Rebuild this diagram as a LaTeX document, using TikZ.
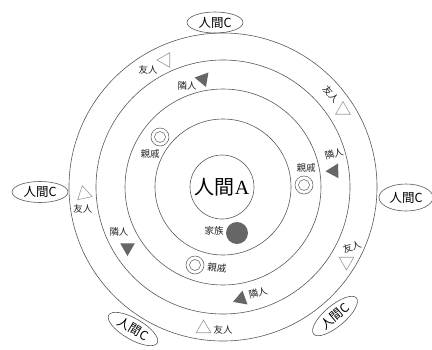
\documentclass[tikz,border=0pt]{standalone}
\usepackage{fontspec}
\setmainfont{Liberation Serif}
\newfontfamily\jp{Noto Sans CJK JP}
\usetikzlibrary{shapes.geometric}
\definecolor{ringc}{HTML}{5A5A5A}
\definecolor{darkfill}{HTML}{666666}
\definecolor{lightline}{HTML}{9A9A9A}
\tikzset{
  ring/.style={circle,draw=ringc,line width=0.6pt,inner sep=0pt},
  lbl/.style={font=\jp\fontsize{9.5}{10}\selectfont,inner sep=0pt,text=black!85},
  hum/.style={ellipse,draw=ringc,line width=0.6pt,inner sep=0pt,minimum width=56pt,minimum height=21pt,font=\jp\fontsize{12.5}{13}\selectfont},
  opentri/.style={regular polygon,regular polygon sides=3,draw=lightline,line width=0.6pt,inner sep=0pt,minimum size=17pt},
  filltri/.style={regular polygon,regular polygon sides=3,fill=darkfill,inner sep=0pt,minimum size=17pt},
  kin/.style={circle,draw=ringc,line width=0.5pt,inner sep=0pt,minimum size=18pt},
  kinin/.style={circle,draw=ringc,line width=0.5pt,inner sep=0pt,minimum size=11pt},
}
\begin{document}
\begin{tikzpicture}[x=1pt,y=-1pt]
\useasboundingbox (0,0) rectangle (432,349);
\fill[white] (0,0) rectangle (432,349);
% rings
\node[ring,minimum size=308pt] (r5) at (223,187) {};
\node[ring,minimum size=254pt] (r4) at (223,187) {};
\node[ring,minimum size=196pt] (r3) at (223,187) {};
\node[ring,minimum size=136pt] (r2) at (223,187) {};
\node[ring,minimum size=64pt,font=\fontsize{20}{22}\selectfont] (r1) at (222,187) {{\jp 人間}A};
% outer humans
\node[hum] (cT) at (215,22.5) {{\jp 人間}C};
\node[hum] (cL) at (40,192) {{\jp 人間}C};
\node[hum,minimum width=54pt,minimum height=27pt] (cR) at (406,197.5) {{\jp 人間}C};
\node[hum,rotate=-30] (cBL) at (133,329) {{\jp 人間}C};
\node[hum,rotate=40] (cBR) at (335,316) {{\jp 人間}C};
% friends
\node[opentri,rotate=90] (f1) at (165.5,60) {};
\node[lbl] (f1l) at (148,70) {友人};
\node[opentri] (f2) at (343,110) {};
\node[lbl,rotate=-50] (f2l) at (331,94) {友人};
\node[opentri,rotate=12] (f3) at (84,194) {};
\node[lbl] (f3l) at (83,208.5) {友人};
\node[opentri,rotate=180] (f4) at (346.5,261.5) {};
\node[lbl,rotate=20] (f4l) at (352,247) {友人};
\node[opentri] (f5) at (203.5,328.5) {};
\node[lbl] (f5l) at (223,330) {友人};
% neighbours
\node[filltri,rotate=80] (n1) at (203,79) {};
\node[lbl] (n1l) at (187,86) {隣人};
\node[filltri,rotate=92] (n2) at (334,171) {};
\node[lbl,rotate=15] (n2l) at (334,154) {隣人};
\node[filltri,rotate=180] (n3) at (127.5,247.5) {};
\node[lbl] (n3l) at (119,232) {隣人};
\node[filltri,rotate=-10] (n4) at (241,299) {};
\node[lbl,rotate=15] (n4l) at (258,293) {隣人};
% relatives
\node[kin] (k1) at (160,137) {};
\node[kinin] (k1i) at (160,137) {};
\node[lbl] (k1l) at (150,154) {親戚};
\node[kin] (k2) at (304,185) {};
\node[kinin] (k2i) at (304,185) {};
\node[lbl] (k2l) at (306,168) {親戚};
\node[kin] (k3) at (195,265) {};
\node[kinin] (k3i) at (195,265) {};
\node[lbl,rotate=-5] (k3l) at (217,268) {親戚};
% family
\node[circle,fill=darkfill,minimum size=22pt,inner sep=0pt] (fam) at (237,233) {};
\node[lbl] (faml) at (214,231) {家族};
\end{tikzpicture}
\end{document}
